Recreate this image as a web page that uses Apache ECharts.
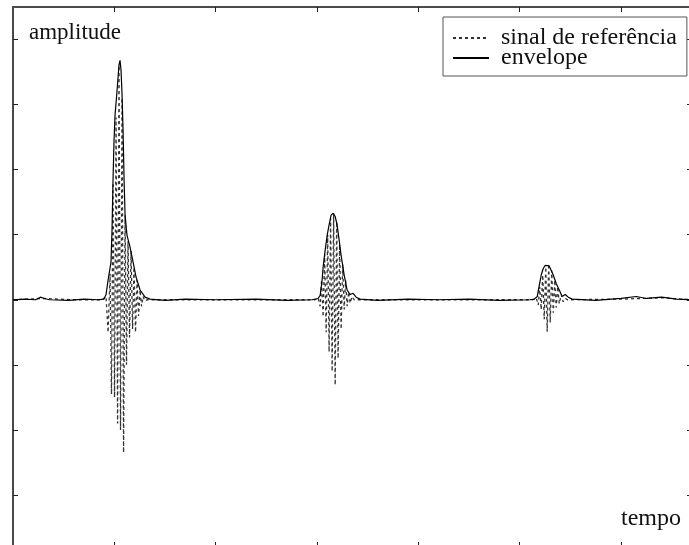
<!DOCTYPE html>
<html>
<head>
<meta charset="utf-8">
<script src="https://cdn.jsdelivr.net/npm/echarts@6.0.0/dist/echarts.min.js"></script>
<style>
  html, body { margin: 0; padding: 0; background: #fff; }
  #chart { width: 689px; height: 545px; }
</style>
</head>
<body>
<div id="chart"></div>
<script>
// tick positions (no labels in the original)
var tempoTicks = [100, 200, 300, 400, 500, 600];
var ampTicks = [-3, -2, -1, 0, 1, 2, 3, 4];

// sinal de referência (dashed)
var refSignal = [
    [0, 0], [30, 0.02], [60, 0], [88, 0],
    // first echo
    [89.8, 0], [91.8, 0.05], [93.8, -0.5], [95.8, 0.4], [97.2, -1.45], [98.7, 1.8],
    [100.2, -1.5], [101.7, 2.8], [103.2, -1.9], [104.6, 3.6], [106.1, -2.0], [107.6, 3.1],
    [109.1, -2.35], [110.6, 1.3], [112.0, -1.0], [113.5, 0.9], [115.0, -0.58], [116.5, 0.75],
    [118.0, -0.45], [119.4, 0.5], [120.9, -0.5], [122.4, 0.3], [123.9, -0.25], [125.4, 0.15],
    [126.8, -0.1], [128.3, 0.05], [130.3, -0.02], [132.3, 0],
    [200, 0], [298, 0],
    // second echo
    [299.1, 0], [301.1, 0.03], [303.1, -0.1], [304.5, 0.3], [306.0, -0.26], [307.5, 0.7],
    [309.0, -0.5], [310.5, 1.0], [311.9, -0.8], [313.4, 1.25], [314.9, -1.1], [316.4, 1.33],
    [317.9, -1.31], [319.4, 1.2], [320.8, -0.9], [322.3, 0.85], [323.8, -0.45], [325.3, 0.55],
    [326.8, -0.15], [328.2, 0.3], [329.7, -0.1], [331.2, 0.12], [332.7, -0.05], [334.6, 0.05],
    [336.6, 0],
    [420, 0], [513, 0],
    // third echo
    [514.3, 0], [516.3, 0.03], [518.3, -0.08], [519.7, 0.2], [521.2, -0.15], [522.7, 0.38],
    [524.2, -0.3], [525.7, 0.5], [527.1, -0.49], [528.6, 0.55], [530.1, -0.35], [531.6, 0.45],
    [533.1, -0.2], [534.6, 0.3], [536.0, -0.12], [537.5, 0.2], [539.0, -0.06], [541.0, 0.08],
    [542.9, -0.03], [544.9, 0.02], [546.9, 0],
    [600, 0.01], [640, 0.03], [670, 0]
];

// envelope (solid)
var envelope = [
    [0, 0], [12, 0.01], [22, 0], [27, 0.04], [31, 0.02], [36, 0], [55, -0.01], [70, 0.01], [84, 0],
    // first echo
    [89.8, 0.01], [91.8, 0.08], [93.8, 0.3], [96.7, 0.58], [97.7, 1.07], [98.7, 1.84],
    [99.7, 2.45], [100.7, 2.84], [102.7, 3.22], [104.6, 3.61], [105.6, 3.68], [106.6, 3.53],
    [107.6, 3.15], [108.6, 2.61], [109.6, 1.84], [110.6, 1.3], [112.5, 0.99], [115.5, 0.81],
    [118.5, 0.58], [121.4, 0.35], [125.4, 0.15], [130.3, 0.04], [135.2, 0.01],
    [150, -0.01], [170, 0.01], [200, 0], [240, 0.01], [270, -0.01], [295, 0],
    // second echo
    [301.1, 0.02], [303.1, 0.07], [305.0, 0.3], [306.0, 0.5], [308.0, 0.76], [310.0, 0.99],
    [311.9, 1.15], [313.9, 1.3], [315.9, 1.33], [317.9, 1.28], [319.8, 1.15], [321.8, 0.92],
    [323.8, 0.68], [324.8, 0.58], [326.8, 0.38], [329.7, 0.15], [332.7, 0.08], [335.6, 0.1],
    [338.6, 0.04], [342.5, 0.01],
    [360, -0.01], [390, 0.01], [420, 0], [450, 0.01], [480, -0.01], [510, 0],
    // third echo
    [514.3, 0.01], [517.3, 0.05], [519.3, 0.22], [521.2, 0.38], [523.2, 0.48], [525.2, 0.53],
    [527.1, 0.55], [529.1, 0.52], [531.1, 0.45], [533.1, 0.38], [536.0, 0.25], [539.0, 0.15],
    [541.9, 0.05], [544.9, 0.08], [547.9, 0.04], [551.8, 0.01],
    [575, -0.01], [600, 0.02], [615, 0.05], [625, 0.02], [640, 0.04], [655, 0.01], [670, 0]
];

var chart = echarts.init(document.getElementById('chart'));

var frameLine = { show: true, onZero: false, lineStyle: { color: '#4a4a4a', width: 2 } };
var tickStyle = { color: '#222', width: 1 };

function xAxisAt(pos) {
    return {
        type: 'value',
        position: pos,
        min: 0,
        max: 670,
        axisLine: frameLine,
        axisTick: { show: true, inside: true, length: 5, customValues: tempoTicks, lineStyle: tickStyle },
        axisLabel: { show: false },
        splitLine: { show: false }
    };
}
function yAxisAt(pos) {
    return {
        type: 'value',
        position: pos,
        min: -3.8,
        max: 4.5,
        axisLine: frameLine,
        axisTick: { show: true, inside: true, length: 5, customValues: ampTicks, lineStyle: tickStyle },
        axisLabel: { show: false },
        splitLine: { show: false }
    };
}

var serif = "'Liberation Serif', 'Times New Roman', serif";

chart.setOption({
    animation: false,
    backgroundColor: '#fff',
    color: ['#2a2a2a', '#000'],
    grid: { left: 13, top: 7, width: 679, height: 540, containLabel: false, outerBoundsMode: 'none' },
    xAxis: [xAxisAt('bottom'), xAxisAt('top')],
    yAxis: [yAxisAt('left'), yAxisAt('right')],
    legend: {
        data: ['sinal de referência', 'envelope'],
        orient: 'vertical',
        left: 443,
        top: 17,
        padding: [9, 10, 6, 9],
        itemWidth: 36,
        itemHeight: 10,
        itemGap: -4,
        itemStyle: { opacity: 0 },
        backgroundColor: '#fff',
        borderColor: '#555',
        borderWidth: 1,
        borderRadius: 0,
        textStyle: { fontFamily: serif, fontSize: 24, color: '#111', padding: [0, 0, 0, 7] }
    },
    graphic: [
        { type: 'text', left: 29, top: 21, style: { text: 'amplitude', font: '23px ' + serif, fill: '#111' } },
        { type: 'text', left: 621, top: 507, style: { text: 'tempo', font: '24px ' + serif, fill: '#111' } }
    ],
    series: [
        {
            name: 'sinal de referência',
            type: 'line',
            data: refSignal,
            symbol: 'none',
            showSymbol: false,
            lineStyle: { color: '#333', width: 1.3, type: [3, 3] }
        },
        {
            name: 'envelope',
            type: 'line',
            data: envelope,
            symbol: 'none',
            showSymbol: false,
            lineStyle: { color: '#000', width: 1.2 }
        }
    ]
});
</script>
</body>
</html>
